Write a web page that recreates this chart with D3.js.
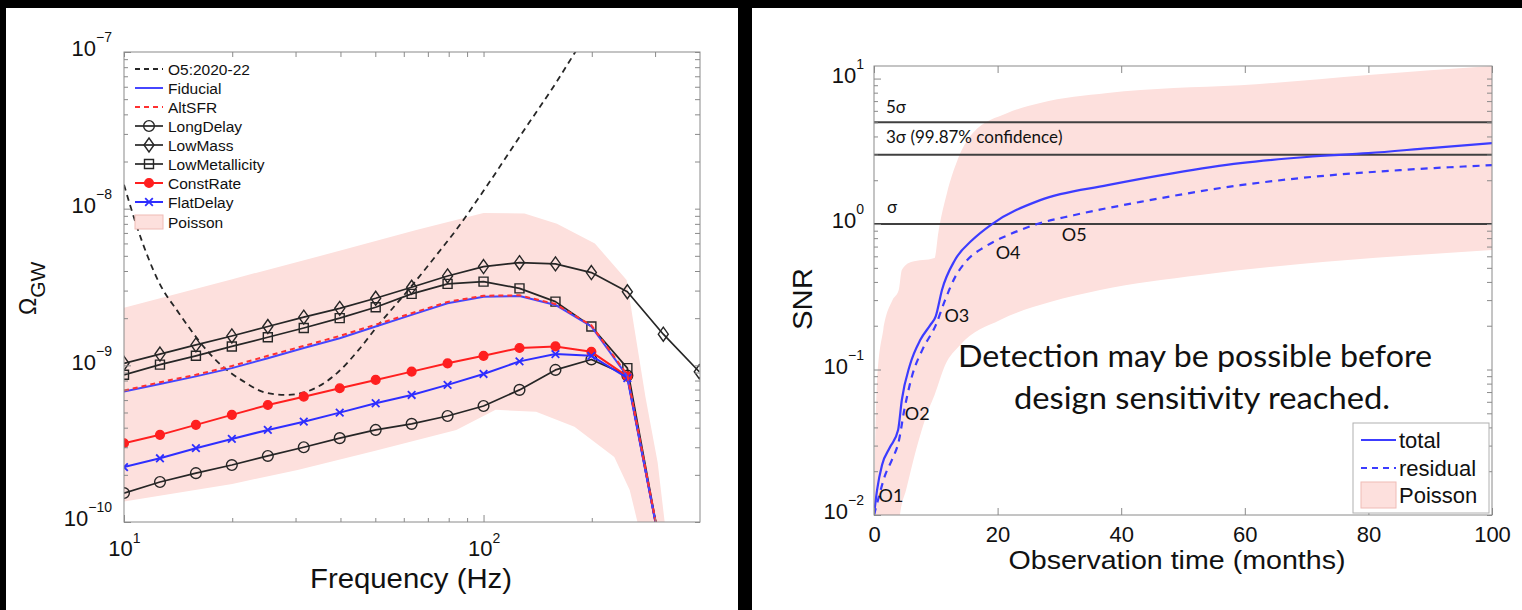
<!DOCTYPE html>
<html>
<head>
<meta charset="utf-8">
<script src="https://cdn.jsdelivr.net/npm/d3@7"></script>
<style>
  body { margin: 0; background: #000; }
  svg { display: block; }
  text { font-family: "Liberation Sans", Arial, Helvetica, sans-serif; fill: #111; }
  .gill { font-family: Lato, "Open Sans", sans-serif; }
</style>
</head>
<body>
<svg id="fig" width="1522" height="610"></svg>
<script>
// ---------------- Left panel: Omega_GW spectra ----------------
const freqHz = [10, 12.59, 15.85, 19.95, 25.12, 31.62, 39.81, 50.12, 63.10, 79.43, 100, 125.9, 158.5, 199.5, 251.2, 316.2, 398.1];

const fiducial       = [6.8e-10, 7.6e-10, 8.5e-10, 9.6e-10, 1.11e-9, 1.29e-9, 1.49e-9, 1.77e-9, 2.10e-9, 2.49e-9, 2.74e-9, 2.77e-9, 2.43e-9, 1.77e-9, 8.5e-10, 5.5e-11];
const altSFR         = [6.9e-10, 7.8e-10, 8.7e-10, 9.9e-10, 1.15e-9, 1.33e-9, 1.54e-9, 1.82e-9, 2.15e-9, 2.54e-9, 2.78e-9, 2.80e-9, 2.46e-9, 1.80e-9, 8.7e-10, 5.6e-11];
const longDelay      = [1.53e-10, 1.80e-10, 2.05e-10, 2.31e-10, 2.64e-10, 3.0e-10, 3.43e-10, 3.87e-10, 4.23e-10, 4.75e-10, 5.5e-10, 6.97e-10, 9.35e-10, 1.09e-9, 8.6e-10, 5.5e-11];
const lowMass        = [1.03e-9, 1.18e-9, 1.35e-9, 1.54e-9, 1.77e-9, 2.03e-9, 2.31e-9, 2.68e-9, 3.15e-9, 3.72e-9, 4.27e-9, 4.52e-9, 4.44e-9, 3.91e-9, 2.95e-9, 1.58e-9, 9.1e-10];
const lowMetallicity = [8.7e-10, 1.01e-9, 1.15e-9, 1.32e-9, 1.51e-9, 1.73e-9, 2.0e-9, 2.35e-9, 2.86e-9, 3.31e-9, 3.42e-9, 3.10e-9, 2.55e-9, 1.77e-9, 9.6e-10, 5.5e-11];
const constRate      = [3.18e-10, 3.6e-10, 4.17e-10, 4.83e-10, 5.58e-10, 6.31e-10, 7.14e-10, 8.07e-10, 9.12e-10, 1.03e-9, 1.15e-9, 1.29e-9, 1.32e-9, 1.22e-9, 8.5e-10, 5.5e-11];
const flatDelay      = [2.24e-10, 2.55e-10, 2.96e-10, 3.39e-10, 3.87e-10, 4.37e-10, 4.99e-10, 5.73e-10, 6.47e-10, 7.5e-10, 8.81e-10, 1.06e-9, 1.18e-9, 1.15e-9, 8.3e-10, 5.5e-11];

// O5 (2020-22) sensitivity curve
const o5Freq  = [10, 10.9, 12.5, 14.2, 18.3, 21.5, 24.9, 28.2, 32.0, 39.2, 45, 50.6, 61.8, 75.9, 83.9, 100, 130, 160, 180, 200];
const o5Omega = [1.42e-8, 7.5e-9, 3.4e-9, 2.16e-9, 1.04e-9, 7.9e-10, 6.67e-10, 6.47e-10, 6.76e-10, 8.95e-10, 1.26e-9, 1.77e-9, 3.03e-9, 5.45e-9, 7.31e-9, 1.3e-8, 3.2e-8, 6.5e-8, 1.0e-7, 1.45e-7];

// Poisson uncertainty band
const poissonUpFreq  = [10, 20, 40, 65, 100, 130, 160, 204, 250, 263, 282, 305, 319, 335];
const poissonUp      = [2.33e-9, 3.55e-9, 5.4e-9, 7.3e-9, 9.4e-9, 9.3e-9, 8.0e-9, 6.0e-9, 3.5e-9, 1.7e-9, 6.3e-10, 2.4e-10, 1.0e-10, 3e-11];
const poissonLoFreq  = [10, 20, 30.4, 50, 84, 108, 140, 179, 231, 255, 268, 280];
const poissonLo      = [1.35e-10, 1.75e-10, 2.15e-10, 2.85e-10, 3.87e-10, 5.2e-10, 5.05e-10, 4.05e-10, 2.6e-10, 1.6e-10, 1.0e-10, 3e-11];

const leftXTicks = [10, 100];
const leftYTicks = [1e-10, 1e-9, 1e-8, 1e-7];

// ---------------- Right panel: SNR vs observation time ----------------
const monthsTotal = [0, 0.5, 1.3, 2.6, 3.9, 4.5, 5.8, 7.5, 9.1, 10, 11.0, 13.1, 15.9, 19.1, 26.9, 37.8, 48.5, 59.3, 70, 80, 90, 100];
const snrTotal    = [0.01, 0.0149, 0.0221, 0.0293, 0.0384, 0.0617, 0.107, 0.16, 0.202, 0.233, 0.352, 0.566, 0.776, 1.0, 1.46, 1.85, 2.24, 2.62, 2.89, 3.07, 3.33, 3.6];
const monthsResidual = [0, 0.65, 1.8, 2.9, 4.05, 4.9, 6.2, 7.8, 10, 11.5, 13.1, 15.0, 18.0, 22.0, 26.4, 32.3, 43.1, 59.3, 69, 85.3, 100];
const snrResidual    = [0.01, 0.0127, 0.0188, 0.0239, 0.0328, 0.0527, 0.0917, 0.136, 0.202, 0.30, 0.43, 0.56, 0.70, 0.85, 1.0, 1.15, 1.42, 1.85, 2.07, 2.35, 2.54];

const poissonUpMonths = [0, 0.5, 1.5, 3, 4, 4.5, 6, 9.8, 10.4, 11.8, 13.5, 16, 21.6, 26.9, 37.8, 48.5, 59.3, 80, 100];
const poissonUpSNR    = [0.01, 0.085, 0.187, 0.3, 0.352, 0.483, 0.548, 0.584, 0.867, 1.63, 2.75, 4.22, 5.79, 6.79, 7.95, 8.6, 9.0, 10.6, 12.2];
const poissonLoMonths = [0, 4, 4.2, 5.2, 6.8, 8.8, 9.8, 11.5, 13.9, 20.4, 28.5, 36.6, 52.8, 69, 85.3, 100];
const poissonLoSNR    = [0.005, 0.005, 0.01, 0.0149, 0.028, 0.0527, 0.0668, 0.107, 0.147, 0.219, 0.291, 0.352, 0.446, 0.531, 0.603, 0.663];

const sigmaLevels = [5, 3, 1];
const sigmaLabels = ["5σ", "3σ (99.87% confidence)", "σ"];
const runLabels   = ["O1", "O2", "O3", "O4", "O5"];

const rightXTicks = [0, 20, 40, 60, 80, 100];
const rightYTicks = [0.01, 0.1, 1, 10];

// ---------------- drawing ----------------
const W = 1522, H = 610;
const svg = d3.select("#fig");
const PINK = "#fde0dd", PINK_EDGE = "#efbcb6";
const FRAME = "#8a8a8a", INK = "#262626";

svg.append("rect").attr("width", W).attr("height", H).attr("fill", "#000");
svg.append("rect").attr("x", 6).attr("y", 8).attr("width", 732).attr("height", H - 8).attr("fill", "#fff");
svg.append("rect").attr("x", 752).attr("y", 8).attr("width", W - 752).attr("height", H - 8).attr("fill", "#fff");

const defs = svg.append("defs");
function clipRect(id, b) {
  defs.append("clipPath").attr("id", id).append("rect")
    .attr("x", b.left).attr("y", b.top).attr("width", b.right - b.left).attr("height", b.bottom - b.top);
}
const zip = (a, b) => a.map((v, i) => [v, b[i]]);
const minorLog = (lo, hi) => {
  const out = [];
  for (let e = lo; e < hi; e++) for (let k = 2; k <= 9; k++) out.push(k * Math.pow(10, e));
  return out;
};
function supLabel(sel, fs, sfs, rise) {
  sel.each(function (d) {
    const t = d3.select(this);
    const e = Math.round(Math.log10(d));
    t.text(null);
    t.append("tspan").attr("font-size", fs).text("10");
    t.append("tspan").attr("font-size", sfs).attr("dy", -rise).text(e < 0 ? "\u2212" + (-e) : String(e));
  });
}
function styleAxis(g) {
  g.select(".domain").remove();
  g.selectAll(".tick line").attr("stroke", FRAME);
}

// ===== Left plot =====
const L = { left: 124, right: 700, top: 52, bottom: 522 };
clipRect("clipL", L);
const xL = d3.scaleLog().domain([10, 400]).range([L.left, L.right]);
const yL = d3.scaleLog().domain([1e-10, 1e-7]).range([L.bottom, L.top]);
const gL = svg.append("g");
const plotL = gL.append("g").attr("clip-path", "url(#clipL)");

// Poisson band
const bandL = zip(poissonUpFreq, poissonUp).concat(zip(poissonLoFreq, poissonLo).reverse());
plotL.append("path")
  .attr("d", d3.line().x(d => xL(d[0])).y(d => yL(d[1]))(bandL) + "Z")
  .attr("fill", PINK).attr("stroke", "none");

// O5 sensitivity
plotL.append("path")
  .attr("d", d3.line().curve(d3.curveMonotoneX).x(d => xL(d[0])).y(d => yL(d[1]))(zip(o5Freq, o5Omega)))
  .attr("fill", "none").attr("stroke", INK).attr("stroke-width", 1.8).attr("stroke-dasharray", "6,4.5");

const lineL = d3.line().x(d => xL(d[0])).y(d => yL(d[1]));
const markerShapes = {
  circle:  () => d3.symbol(d3.symbolCircle, 90)(),
  diamond: () => "M0,-7L5,0L0,7L-5,0Z",
  square:  () => "M-4.5,-4.5H4.5V4.5H-4.5Z",
  dot:     () => d3.symbol(d3.symbolCircle, 60)(),
  cross:   () => "M-3.8,-3.8L3.8,3.8M-3.8,3.8L3.8,-3.8"
};
const seriesL = [
  { name: "Fiducial",       v: fiducial,       color: "#4646ff", dash: null,  marker: null,      w: 2 },
  { name: "AltSFR",         v: altSFR,         color: "#ff3030", dash: "5,4", marker: null,      w: 2 },
  { name: "LongDelay",      v: longDelay,      color: INK,       dash: null,  marker: "circle",  w: 1.7 },
  { name: "LowMass",        v: lowMass,        color: INK,       dash: null,  marker: "diamond", w: 1.7 },
  { name: "LowMetallicity", v: lowMetallicity, color: INK,       dash: null,  marker: "square",  w: 1.7 },
  { name: "ConstRate",      v: constRate,      color: "#ff1f1f", dash: null,  marker: "dot",     w: 2 },
  { name: "FlatDelay",      v: flatDelay,      color: "#2e2eff", dash: null,  marker: "cross",   w: 2 }
];
const drawOrder = [2, 3, 4, 5, 6, 0, 1];
drawOrder.forEach(i => {
  const s = seriesL[i];
  const pts = zip(freqHz.slice(0, s.v.length), s.v);
  const p = plotL.append("path").attr("d", lineL(pts)).attr("fill", "none")
    .attr("stroke", s.color).attr("stroke-width", s.w).attr("stroke-linejoin", "round");
  if (s.dash) p.attr("stroke-dasharray", s.dash);
  if (s.marker) {
    plotL.selectAll(null).data(pts.filter(d => d[1] >= 1e-10)).join("path")
      .attr("transform", d => `translate(${xL(d[0])},${yL(d[1])})`)
      .attr("d", markerShapes[s.marker]())
      .attr("fill", s.marker === "dot" ? s.color : "none")
      .attr("stroke", s.color).attr("stroke-width", s.marker === "cross" ? 1.8 : 1.4);
  }
});

// Axes (ticks inward)
const xMinorL = [20, 30, 40, 50, 60, 70, 80, 90, 200, 300];
const yMinorL = minorLog(-10, -7);
gL.append("g").attr("transform", `translate(0,${L.bottom})`)
  .call(d3.axisBottom(xL).tickValues(leftXTicks).tickSize(-7).tickPadding(18))
  .call(styleAxis).call(g => supLabel(g.selectAll(".tick text").attr("font-size", 22), 22, 14, 13));
gL.append("g").attr("transform", `translate(0,${L.bottom})`)
  .call(d3.axisBottom(xL).tickValues(xMinorL).tickSize(-4).tickFormat("")).call(styleAxis);
gL.append("g").attr("transform", `translate(0,${L.top})`)
  .call(d3.axisTop(xL).tickValues(leftXTicks.concat(xMinorL)).tickSize(-5).tickFormat("")).call(styleAxis);
gL.append("g").attr("transform", `translate(${L.left},0)`)
  .call(d3.axisLeft(yL).tickValues(leftYTicks).tickSize(-7).tickPadding(12))
  .call(styleAxis).call(g => { g.selectAll(".tick text").attr("dy", "0.38em"); supLabel(g.selectAll(".tick text"), 22, 14, 14); });
gL.append("g").attr("transform", `translate(${L.left},0)`)
  .call(d3.axisLeft(yL).tickValues(yMinorL).tickSize(-4).tickFormat("")).call(styleAxis);
gL.append("g").attr("transform", `translate(${L.right},0)`)
  .call(d3.axisRight(yL).tickValues(leftYTicks.concat(yMinorL)).tickSize(-5).tickFormat("")).call(styleAxis);
gL.append("rect").attr("x", L.left).attr("y", L.top).attr("width", L.right - L.left).attr("height", L.bottom - L.top)
  .attr("fill", "none").attr("stroke", FRAME).attr("stroke-width", 1);

// Axis titles
gL.append("text").attr("x", 411).attr("y", 588).attr("text-anchor", "middle")
  .attr("font-size", 27).attr("textLength", 202).attr("lengthAdjust", "spacingAndGlyphs").text("Frequency (Hz)");
const om = gL.append("text").attr("transform", "translate(36,315) rotate(-90)");
om.append("tspan").attr("font-size", 23).text("Ω");
om.append("tspan").attr("font-size", 21).attr("dy", 9).text("GW");

// Legend
const legL = gL.append("g").attr("font-size", 15.5);
const legItems = [
  { label: "O5:2020-22", color: INK, dash: "5,4", marker: null, w: 1.8 }
].concat(seriesL.map(s => ({ label: s.name, color: s.color, dash: s.dash, marker: s.marker, w: s.w })));
legItems.forEach((it, i) => {
  const y = 69 + i * 19;
  const l = legL.append("line").attr("x1", 135).attr("x2", 163).attr("y1", y).attr("y2", y)
    .attr("stroke", it.color).attr("stroke-width", it.w);
  if (it.dash) l.attr("stroke-dasharray", it.dash);
  if (it.marker) legL.append("path").attr("transform", `translate(149,${y})`).attr("d", markerShapes[it.marker]())
    .attr("fill", it.marker === "dot" ? it.color : "none").attr("stroke", it.color)
    .attr("stroke-width", it.marker === "cross" ? 1.8 : 1.4);
  legL.append("text").attr("x", 168).attr("y", y + 5.5).text(it.label);
});
legL.append("rect").attr("x", 135).attr("y", 215).attr("width", 28).attr("height", 14)
  .attr("fill", PINK).attr("stroke", PINK_EDGE);
legL.append("text").attr("x", 168).attr("y", 227.5).text("Poisson");

// ===== Right plot =====
const R = { left: 874, right: 1492, top: 66, bottom: 515 };
clipRect("clipR", R);
const xR = d3.scaleLinear().domain([0, 100]).range([R.left, R.right]);
const yR = d3.scaleLog().domain([0.01, 12.2]).range([R.bottom, R.top]);
const gR = svg.append("g");
const plotR = gR.append("g").attr("clip-path", "url(#clipR)");

const lineR = d3.line().curve(d3.curveMonotoneX).x(d => xR(d[0])).y(d => yR(d[1]));
const bandR = zip(poissonUpMonths, poissonUpSNR);
const bandRlo = zip(poissonLoMonths, poissonLoSNR).reverse();
plotR.append("path")
  .attr("d", lineR(bandR) + "L" + lineR(bandRlo).slice(1) + "Z")
  .attr("fill", PINK).attr("stroke", "none");

sigmaLevels.forEach(v => {
  plotR.append("line").attr("x1", R.left).attr("x2", R.right).attr("y1", yR(v)).attr("y2", yR(v))
    .attr("stroke", "#404040").attr("stroke-width", 2);
});

plotR.append("path").attr("d", lineR(zip(monthsResidual, snrResidual))).attr("fill", "none")
  .attr("stroke", "#3c3cff").attr("stroke-width", 2.2).attr("stroke-dasharray", "7,6");
plotR.append("path").attr("d", lineR(zip(monthsTotal, snrTotal))).attr("fill", "none")
  .attr("stroke", "#3c3cff").attr("stroke-width", 2.2);

// Axes
const yMinorR = minorLog(-2, 1).concat([2, 3, 4, 5, 6, 7, 8, 9].map(k => k * 10).filter(v => v <= 12.2));
gR.append("g").attr("transform", `translate(0,${R.bottom})`)
  .call(d3.axisBottom(xR).tickValues(rightXTicks).tickSize(-7).tickPadding(11).tickFormat(d3.format("d")))
  .call(styleAxis).call(g => g.selectAll(".tick text").attr("font-size", 22));
gR.append("g").attr("transform", `translate(0,${R.top})`)
  .call(d3.axisTop(xR).tickValues(rightXTicks).tickSize(-7).tickFormat("")).call(styleAxis);
gR.append("g").attr("transform", `translate(${R.left},0)`)
  .call(d3.axisLeft(yR).tickValues(rightYTicks).tickSize(-7).tickPadding(10))
  .call(styleAxis).call(g => { g.selectAll(".tick text").attr("dy", "0.38em"); supLabel(g.selectAll(".tick text"), 22, 14, 14); });
gR.append("g").attr("transform", `translate(${R.left},0)`)
  .call(d3.axisLeft(yR).tickValues(yMinorR).tickSize(-4).tickFormat("")).call(styleAxis);
gR.append("g").attr("transform", `translate(${R.right},0)`)
  .call(d3.axisRight(yR).tickValues(rightYTicks.concat(yMinorR)).tickSize(-5).tickFormat("")).call(styleAxis);
gR.append("rect").attr("x", R.left).attr("y", R.top).attr("width", R.right - R.left).attr("height", R.bottom - R.top)
  .attr("fill", "none").attr("stroke", FRAME).attr("stroke-width", 1);

// Sigma annotations
const sigmaText = [{ x: 886, y: 113 }, { x: 886, y: 143 }, { x: 887, y: 213 }];
sigmaLabels.forEach((s, i) => {
  gR.append("text").attr("class", "gill").attr("x", sigmaText[i].x).attr("y", sigmaText[i].y)
    .attr("font-size", 17).text(s);
});

// Observing-run markers (anchored in data coordinates: months, SNR)
const runAt = [[2.75, 0.0137], [7.0, 0.05], [13.4, 0.237], [21.7, 0.64], [32.4, 0.85]];
runLabels.forEach((s, i) => {
  gR.append("text").attr("class", "gill").attr("x", xR(runAt[i][0])).attr("y", yR(runAt[i][1]) + 6.5)
    .attr("text-anchor", "middle").attr("font-size", 18).text(s);
});

// Message
gR.append("text").attr("class", "gill").attr("x", 1195).attr("y", 367).attr("text-anchor", "middle")
  .attr("font-size", 30).attr("textLength", 474).attr("lengthAdjust", "spacingAndGlyphs").text("Detection may be possible before");
gR.append("text").attr("class", "gill").attr("x", 1202).attr("y", 409).attr("text-anchor", "middle")
  .attr("font-size", 30).attr("textLength", 376).attr("lengthAdjust", "spacingAndGlyphs").text("design sensitivity reached.");

// Axis titles
gR.append("text").attr("x", 1177).attr("y", 569).attr("text-anchor", "middle")
  .attr("font-size", 26).attr("textLength", 337).attr("lengthAdjust", "spacingAndGlyphs").text("Observation time (months)");
gR.append("text").attr("transform", "translate(812,299) rotate(-90)").attr("text-anchor", "middle")
  .attr("font-size", 28).attr("textLength", 62).attr("lengthAdjust", "spacingAndGlyphs").text("SNR");

// Legend
const legR = gR.append("g").attr("font-size", 22);
legR.append("rect").attr("x", 1353).attr("y", 423).attr("width", 136).attr("height", 90)
  .attr("fill", "#fff").attr("stroke", "#b0b0b0");
legR.append("line").attr("x1", 1361).attr("x2", 1396).attr("y1", 440).attr("y2", 440)
  .attr("stroke", "#3c3cff").attr("stroke-width", 2.2);
legR.append("text").attr("x", 1399).attr("y", 448).text("total");
legR.append("line").attr("x1", 1361).attr("x2", 1396).attr("y1", 468).attr("y2", 468)
  .attr("stroke", "#3c3cff").attr("stroke-width", 2.2).attr("stroke-dasharray", "6,5");
legR.append("text").attr("x", 1399).attr("y", 476).text("residual");
legR.append("rect").attr("x", 1361).attr("y", 482).attr("width", 35).attr("height", 26)
  .attr("fill", PINK).attr("stroke", PINK_EDGE);
legR.append("text").attr("x", 1399).attr("y", 503).text("Poisson");
</script>
</body>
</html>
